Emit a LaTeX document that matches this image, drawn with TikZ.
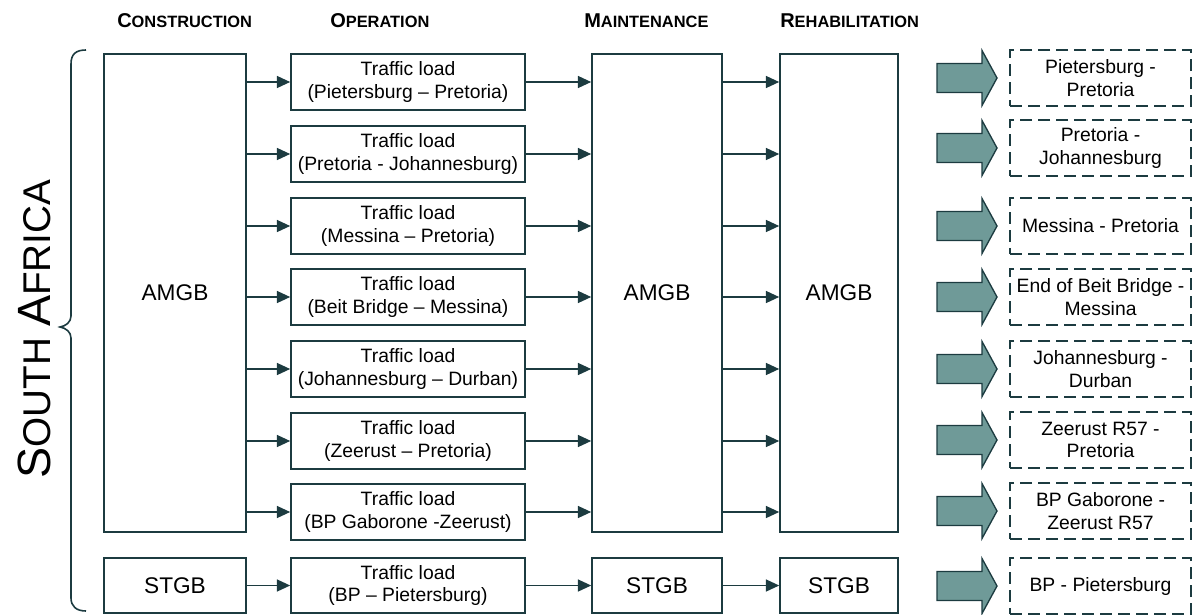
\documentclass[tikz,border=0pt]{standalone}
\usepackage{fontspec}
\setmainfont{Liberation Sans}
\usepackage{xcolor}
\usepackage{tikz}
\usetikzlibrary{arrows.meta}

\definecolor{darkline}{HTML}{1C3B40}
\definecolor{arrowfill}{HTML}{6F9A98}

% small caps headings, faked with two sizes
\newcommand{\phasename}[2]{\textbf{{\fontsize{15}{15}\selectfont #1}{\fontsize{12.3}{13}\selectfont #2}}}

\begin{document}
\begin{tikzpicture}[x=0.75pt, y=-0.75pt,
        stage/.style={
                draw=darkline,
                line width=1.2pt,
                inner sep=0pt,
                align=center,
                font=\fontsize{14.5}{17}\selectfont,
        },
        gb/.style={stage, font=\fontsize{17}{20}\selectfont},
        load/.style={stage, minimum width=175.5pt, minimum height=42pt},
        route/.style={stage, dash pattern=on 9pt off 4.5pt, minimum width=135.75pt, minimum height=42pt},
        flow/.style={draw=darkline, line width=1.2pt, -{Triangle[length=10pt, width=9pt]}},
        fat/.style={draw=darkline, line width=1pt, fill=arrowfill},
        phase/.style={anchor=base west, inner sep=0pt},
    ]
            \useasboundingbox (0,0) rectangle (1194,614);

            % headings
            \node[phase] (hcons) at (117,27) {\phasename{C}{ONSTRUCTION}};
            \node[phase] (hoper) at (330,27) {\phasename{O}{PERATION}};
            \node[phase] (hmain) at (584,27) {\phasename{M}{AINTENANCE}};
            \node[phase] (hreha) at (780,27) {\phasename{R}{EHABILITATION}};

            % country and brace
            \node[rotate=90, inner sep=0pt] (country) at (34,329)
                {{\fontsize{35}{35}\selectfont S}{\fontsize{29}{29}\selectfont OUTH }{\fontsize{35}{35}\selectfont A}{\fontsize{29}{29}\selectfont FRICA}};
            \draw[darkline, line width=1.2pt] (86,50) .. controls (76,50) and (71,54) .. (71,64) -- (71,316)
                .. controls (71,322) and (66,326) .. (60,327) .. controls (66,328) and (71,332) .. (71,338)
                -- (71,598) .. controls (71,606) and (76,611) .. (86,611);

            % tall boxes
            \node[gb, minimum width=106.5pt, minimum height=358.5pt] (consA) at (175,293) {AMGB};
            \node[gb, minimum width=97.5pt, minimum height=358.5pt] (mainA) at (657,293) {AMGB};
            \node[gb, minimum width=88.5pt, minimum height=358.5pt] (rehaA) at (839,293) {AMGB};

            % traffic loads on the AMGB roads
            \foreach \i/\road/\yy in {1/(Pietersburg -- Pretoria)/82,
                                      2/(Pretoria - Johannesburg)/154,
                                      3/(Messina -- Pretoria)/226,
                                      4/(Beit Bridge -- Messina)/297,
                                      5/(Johannesburg -- Durban)/369,
                                      6/(Zeerust -- Pretoria)/441,
                                      7/(BP Gaborone -Zeerust)/512} {
                \node[load] (op\i) at (408,\yy) {Traffic load\\\road};
                \draw[flow] (consA.east |- op\i.west) -- (op\i.west);
                \draw[flow] (op\i.east) -- (mainA.west |- op\i.east);
                \draw[flow] (mainA.east |- op\i.east) -- (rehaA.west |- op\i.east);
            }

            % STGB row
            \node[gb, minimum width=106.5pt, minimum height=41.25pt] (consS) at (175,585.5) {STGB};
            \node[load, minimum height=41.25pt] (opS) at (408,585.5) {Traffic load\\(BP -- Pietersburg)};
            \node[gb, minimum width=97.5pt, minimum height=41.25pt] (mainS) at (657,585.5) {STGB};
            \node[gb, minimum width=88.5pt, minimum height=41.25pt] (rehaS) at (839,585.5) {STGB};
            \draw[flow] (consS) -- (opS);
            \draw[flow] (opS) -- (mainS);
            \draw[flow] (mainS) -- (rehaS);

            % resulting road sections
            \foreach \i/\sect/\yy in {1/{Pietersburg -\\Pretoria}/78,
                                      2/{Pretoria -\\Johannesburg}/148,
                                      3/{Messina - Pretoria}/226,
                                      4/{End of Beit Bridge -\\Messina}/297,
                                      5/{Johannesburg -\\Durban}/369,
                                      6/{Zeerust R57 -\\Pretoria}/440,
                                      7/{BP Gaborone -\\Zeerust R57}/511,
                                      8/{BP - Pietersburg}/586} {
                \node[route] (sec\i) at (1100.5,\yy) {\sect};
                \draw[fat] (937,\yy-14.5) -- (982,\yy-14.5) -- (982,\yy-27.5) -- (997,\yy)
                    -- (982,\yy+27.5) -- (982,\yy+14.5) -- (937,\yy+14.5) -- cycle;
            }
        \end{tikzpicture}
\end{document}
